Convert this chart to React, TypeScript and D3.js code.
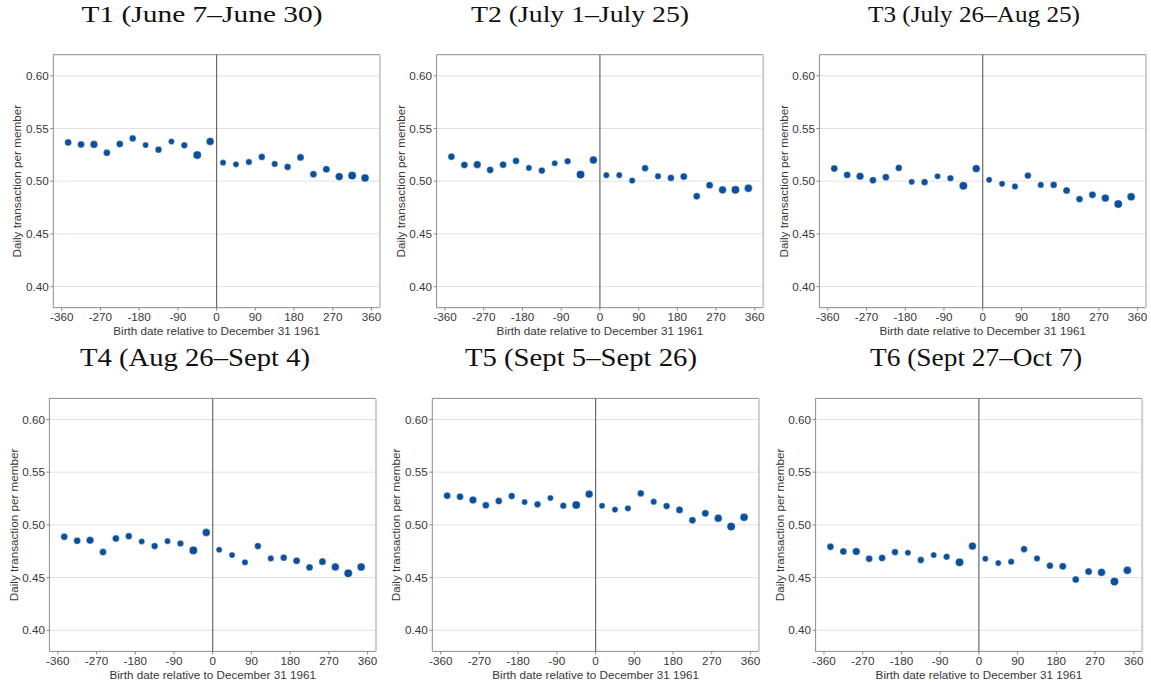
import React from "react";
import * as d3 from "d3";

// ---------- data ----------
const birthDays = [
  -345, -315, -285, -255, -225, -195, -165, -135, -105, -75, -45, -15,
  15, 45, 75, 105, 135, 165, 195, 225, 255, 285, 315, 345,
];

// relative cohort size (drives marker area)
const cohortSize = [
  116, 116, 137, 116, 116, 109, 90, 109, 90, 102, 160, 144,
  90, 90, 96, 109, 96, 109, 122, 116, 122, 144, 160, 152,
];

const periodTitles = [
  "T1 (June 7\u2013June 30)",
  "T2 (July 1\u2013July 25)",
  "T3 (July 26\u2013Aug 25)",
  "T4 (Aug 26\u2013Sept 4)",
  "T5 (Sept 5\u2013Sept 26)",
  "T6 (Sept 27\u2013Oct 7)",
];

const t1Values = [
  0.5368, 0.5349, 0.5349, 0.527, 0.5352, 0.5406, 0.5343, 0.5299, 0.5377, 0.534, 0.5248, 0.5377,
  0.5176, 0.516, 0.5182, 0.523, 0.5164, 0.5135, 0.5226, 0.5066, 0.5113, 0.5044, 0.5053, 0.5031,
];
const t2Values = [
  0.5233, 0.5154, 0.5157, 0.5107, 0.5157, 0.5192, 0.5126, 0.5101, 0.517, 0.5189, 0.5063, 0.5201,
  0.5057, 0.5057, 0.5006, 0.5123, 0.5047, 0.5031, 0.5044, 0.4858, 0.4962, 0.4918, 0.4918, 0.4934,
];
const t3Values = [
  0.512, 0.506, 0.5047, 0.5009, 0.5038, 0.5126, 0.4994, 0.4991, 0.5047, 0.5028, 0.4956, 0.512,
  0.5013, 0.4975, 0.495, 0.5053, 0.4965, 0.4965, 0.4912, 0.483, 0.4871, 0.484, 0.4783, 0.4852,
];
const t4Values = [
  0.4887, 0.4849, 0.4855, 0.4742, 0.4871, 0.4893, 0.4843, 0.4799, 0.4846, 0.4824, 0.4758, 0.4928,
  0.4764, 0.4714, 0.4645, 0.4799, 0.4682, 0.4689, 0.466, 0.4597, 0.4651, 0.4601, 0.4541, 0.4601,
];
const t5Values = [
  0.5277, 0.5267, 0.5236, 0.5186, 0.5226, 0.5274, 0.5217, 0.5195, 0.5255, 0.5182, 0.5189, 0.5292,
  0.5182, 0.5145, 0.5157, 0.5299, 0.522, 0.5179, 0.5142, 0.5044, 0.511, 0.5063, 0.4984, 0.5072,
];
const t6Values = [
  0.4792, 0.4748, 0.4748, 0.4679, 0.4686, 0.4742, 0.4736, 0.4667, 0.4714, 0.4698, 0.4645, 0.4799,
  0.4679, 0.4638, 0.4651, 0.477, 0.4682, 0.4613, 0.4607, 0.4481, 0.4557, 0.455, 0.4462, 0.4569,
];

const xTicks = [-360, -270, -180, -90, 0, 90, 180, 270, 360];
const yTicks = [0.4, 0.45, 0.5, 0.55, 0.6];
const xLabel = "Birth date relative to December 31 1961";
const yLabel = "Daily transaction per member";

// ---------- layout ----------
const W = 1151;
const H = 684;
const PW = 326.6;
const PH = 253;
const panels = [
  { left: 53.3, top: 54.7, values: t1Values, titleX: 202, titleY: 22, titleLen: 241, titleSize: 23 },
  { left: 436.6, top: 54.7, values: t2Values, titleX: 580, titleY: 22, titleLen: 218, titleSize: 23 },
  { left: 819.4, top: 54.7, values: t3Values, titleX: 974, titleY: 22, titleLen: 212, titleSize: 23 },
  { left: 49.4, top: 398.4, values: t4Values, titleX: 195, titleY: 366, titleLen: 230, titleSize: 25 },
  { left: 432.3, top: 398.4, values: t5Values, titleX: 581, titleY: 366, titleLen: 232, titleSize: 25 },
  { left: 815.6, top: 398.4, values: t6Values, titleX: 976, titleY: 366, titleLen: 212, titleSize: 25 },
];

const SANS = "'Liberation Sans', Arial, sans-serif";
const SERIF = "'Liberation Serif', 'DejaVu Serif', serif";
const DOT = "#0b509d";
const TEXT = "#383838";

const x = d3.scaleLinear().domain([-379.5, 379.5]).range([0, PW]);
const y = d3.scaleLinear().domain([0.38, 0.62]).range([PH, 0]);
const r = d3.scaleSqrt().domain([0, 160]).range([0, 4.1]);
const fmt = d3.format(".2f");

function Panel({ p, i }: { p: (typeof panels)[number]; i: number }) {
  return (
    <g>
      <text
        x={p.titleX}
        y={p.titleY}
        textAnchor="middle"
        fontFamily={SERIF}
        fontSize={p.titleSize}
        fill="#111"
        textLength={p.titleLen}
        lengthAdjust="spacingAndGlyphs"
      >
        {periodTitles[i]}
      </text>
      <g transform={`translate(${p.left},${p.top})`}>
        <rect x={0} y={0} width={PW} height={PH} fill="#fff" />
        {yTicks.map((t) => (
          <line key={t} x1={0} x2={PW} y1={y(t)} y2={y(t)} stroke="#e2e2e2" strokeWidth={1} />
        ))}
        {/* spines */}
        <line x1={0} x2={PW} y1={0} y2={0} stroke="#8c8c8c" strokeWidth={1} />
        <line x1={0} x2={PW} y1={PH} y2={PH} stroke="#8c8c8c" strokeWidth={1} />
        <line x1={0} x2={0} y1={0} y2={PH} stroke="#8c8c8c" strokeWidth={1} />
        <line x1={PW} x2={PW} y1={0} y2={PH} stroke="#cdcdcd" strokeWidth={2} />
        {/* zero line */}
        <line x1={x(0)} x2={x(0)} y1={0} y2={PH} stroke="#6a6a6a" strokeWidth={1.2} />
        {/* y ticks */}
        {yTicks.map((t) => (
          <g key={t} transform={`translate(0,${y(t)})`}>
            <line x1={-3} x2={0} stroke="#8c8c8c" />
            <text x={-4.5} dy="0.35em" textAnchor="end" fontFamily={SANS} fontSize={11.7} fill={TEXT}>
              {fmt(t)}
            </text>
          </g>
        ))}
        {/* x ticks */}
        {xTicks.map((t) => (
          <g key={t} transform={`translate(${x(t)},${PH})`}>
            <line y1={0} y2={3} stroke="#8c8c8c" />
            <text y={13.3} textAnchor="middle" fontFamily={SANS} fontSize={11.7} fill={TEXT}>
              {String(t)}
            </text>
          </g>
        ))}
        <text x={PW / 2} y={PH + 27.8} textAnchor="middle" fontFamily={SANS} fontSize={11.7} fill={TEXT}>
          {xLabel}
        </text>
        <text
          transform={`translate(-36,${PH / 2}) rotate(-90)`}
          dy="0.35em"
          textAnchor="middle"
          fontFamily={SANS}
          fontSize={11.7}
          fill={TEXT}
        >
          {yLabel}
        </text>
        {/* points */}
        {birthDays.map((d, k) => (
          <circle
            key={d}
            cx={x(d)}
            cy={y(p.values[k])}
            r={r(cohortSize[k])}
            fill={DOT}
            stroke="#fff"
            strokeWidth={0.4}
          />
        ))}
      </g>
    </g>
  );
}

export default function App() {
  return (
    <svg
      width={W}
      height={H}
      viewBox={`0 0 ${W} ${H}`}
      style={{ position: "absolute", left: 0, top: 0, display: "block", background: "#fff" }}
    >
      <rect width={W} height={H} fill="#fff" />
      {panels.map((p, i) => (
        <Panel key={i} p={p} i={i} />
      ))}
    </svg>
  );
}
